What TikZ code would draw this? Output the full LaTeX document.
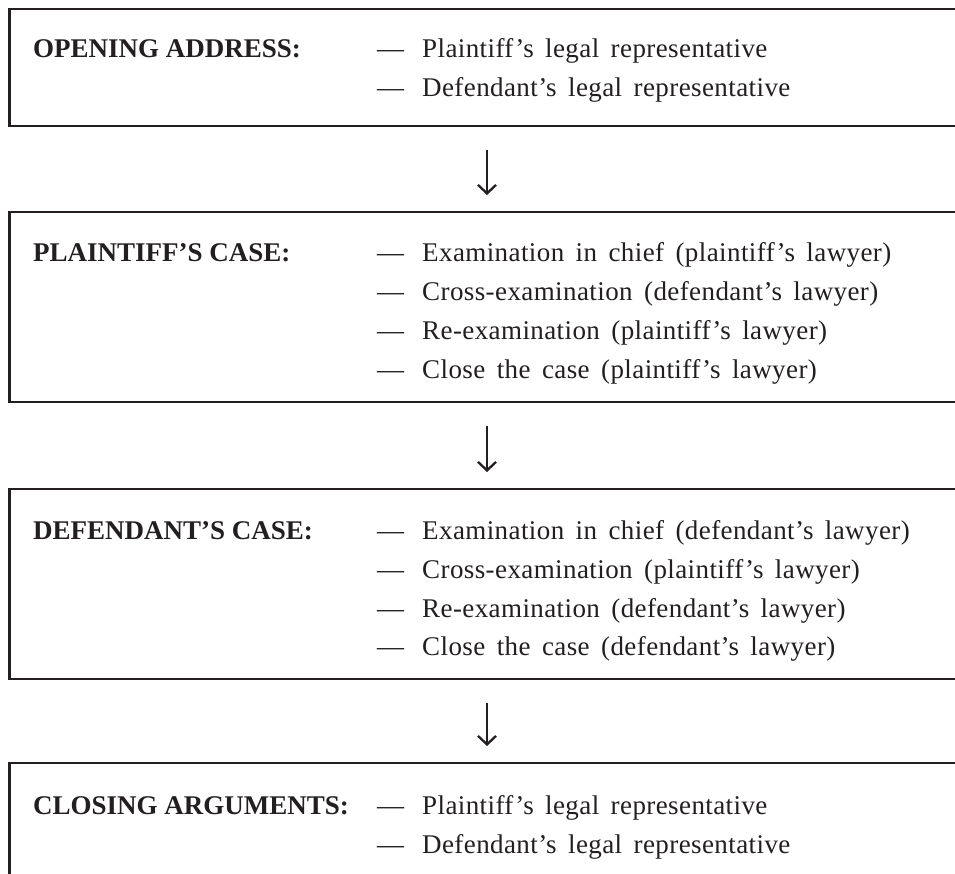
\documentclass[tikz,border=0pt]{standalone}
\usepackage{fontspec}
\setmainfont{Liberation Serif}
\newfontfamily\itemfont[WordSpace=1.6,LetterSpace=1.5]{Liberation Serif}
\usetikzlibrary{arrows.meta}
\definecolor{ink}{HTML}{231F20}
\tikzset{
  box/.style={draw=ink, line width=2.6pt, anchor=north west, minimum width=955pt, inner sep=0pt, outer sep=0pt},
  lbl/.style={anchor=base west, inner sep=0pt, text=ink, font=\fontsize{27}{32}\selectfont\bfseries},
  itm/.style={anchor=base west, inner sep=0pt, text=ink, font=\itemfont\fontsize{27}{32}\selectfont},
  flow/.style={draw=ink, line width=2.3pt, -{Straight Barb[length=8.5pt,width=18pt,line width=2.3pt]}, shorten <=24pt, shorten >=17pt}
}
\begin{document}
\begin{tikzpicture}[x=1pt,y=-1pt]
\clip (0,0) rectangle (955,874);
\fill[white] (0,0) rectangle (955,874);
% boxes
\node[box, minimum height=117pt] (b1) at (9.5,9) {};
\node[box, minimum height=190pt] (b2) at (9.5,212) {};
\node[box, minimum height=190pt] (b3) at (9.5,489) {};
\node[box, minimum height=200pt] (b4) at (9.5,763) {};
% connectors
\draw[flow] (b1.south) -- (b2.north);
\draw[flow] (b2.south) -- (b3.north);
\draw[flow] (b3.south) -- (b4.north);
% box 1
\node[lbl] (l1) at (33,58) {OPENING ADDRESS:};
\node[itm] (d1a) at (377,58) {—};
\node[itm] (t1a) at (422,58) {Plaintiff’s legal representative};
\node[itm] (d1b) at (377,97) {—};
\node[itm] (t1b) at (422,97) {Defendant’s legal representative};
% box 2
\node[lbl] (l2) at (33,262) {PLAINTIFF’S CASE:};
\node[itm] (d2a) at (377,262) {—};
\node[itm] (t2a) at (422,262) {Examination in chief (plaintiff’s lawyer)};
\node[itm] (d2b) at (377,301) {—};
\node[itm] (t2b) at (422,301) {Cross-examination (defendant’s lawyer)};
\node[itm] (d2c) at (377,340) {—};
\node[itm] (t2c) at (422,340) {Re-examination (plaintiff’s lawyer)};
\node[itm] (d2d) at (377,378) {—};
\node[itm] (t2d) at (422,378) {Close the case (plaintiff’s lawyer)};
% box 3
\node[lbl] (l3) at (33,539) {DEFENDANT’S CASE:};
\node[itm] (d3a) at (377,539) {—};
\node[itm] (t3a) at (422,539) {Examination in chief (defendant’s lawyer)};
\node[itm] (d3b) at (377,578) {—};
\node[itm] (t3b) at (422,578) {Cross-examination (plaintiff’s lawyer)};
\node[itm] (d3c) at (377,617) {—};
\node[itm] (t3c) at (422,617) {Re-examination (defendant’s lawyer)};
\node[itm] (d3d) at (377,655) {—};
\node[itm] (t3d) at (422,655) {Close the case (defendant’s lawyer)};
% box 4
\node[lbl] (l4) at (33,814) {CLOSING ARGUMENTS:};
\node[itm] (d4a) at (377,814) {—};
\node[itm] (t4a) at (422,814) {Plaintiff’s legal representative};
\node[itm] (d4b) at (377,853) {—};
\node[itm] (t4b) at (422,853) {Defendant’s legal representative};
\end{tikzpicture}
\end{document}
